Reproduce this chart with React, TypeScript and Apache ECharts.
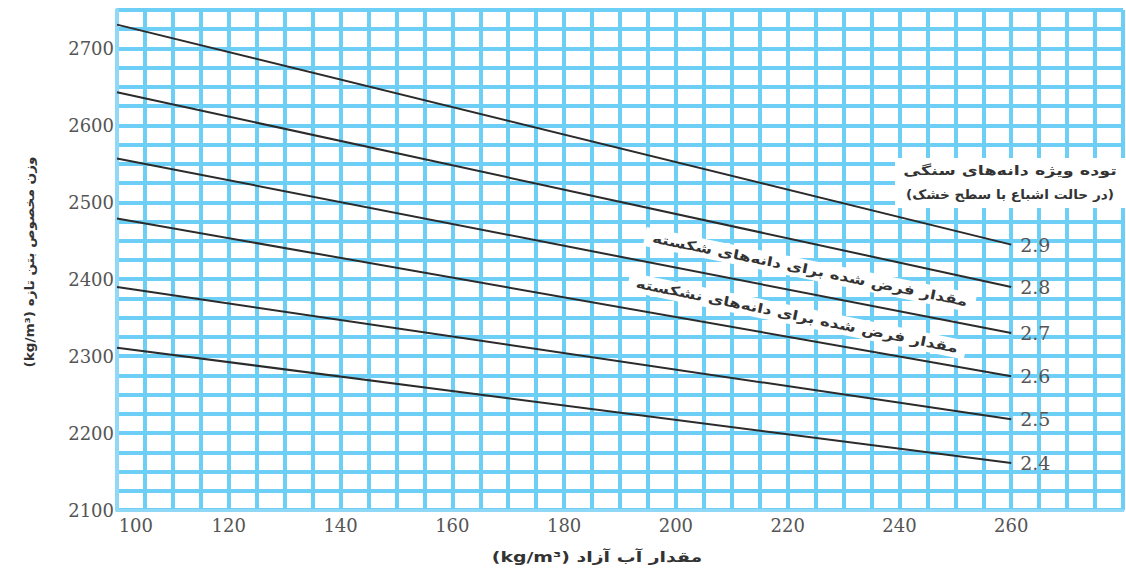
import React, { useEffect, useRef } from "react";
import * as echarts from "echarts";

// Free-water content (kg/m³) at the start and end of each line
const waterContent = [100, 260];

// Relative density of aggregate (SSD) – line labels
const densityNames = ["2.9", "2.8", "2.7", "2.6", "2.5", "2.4"];

// Wet density of fresh concrete (kg/m³) read at 100 and 260 kg/m³ water
const rd29 = [2731, 2445];
const rd28 = [2643, 2390];
const rd27 = [2557, 2330];
const rd26 = [2479, 2274];
const rd25 = [2390, 2218];
const rd24 = [2311, 2161];
const densitySeries = [rd29, rd28, rd27, rd26, rd25, rd24];

const xTickLabels = [100, 120, 140, 160, 180, 200, 220, 240, 260];
const yTickLabels = [2100, 2200, 2300, 2400, 2500, 2600, 2700];

const gridBlue = "#6dcff6";
const persianFont = '"DejaVu Sans", sans-serif';

export default function App() {
  const ref = useRef<HTMLDivElement>(null);

  useEffect(() => {
    if (!ref.current) return;
    const chart = echarts.init(ref.current, undefined, { renderer: "svg" });

    const series = densityNames.map((name, i) => ({
      name,
      type: "line",
      data: waterContent.map((x, j) => [x, densitySeries[i][j]]),
      showSymbol: false,
      symbol: "none",
      lineStyle: { color: "#2b2b2b", width: 2 },
      z: 3,
      endLabel: {
        show: true,
        formatter: "{a}",
        distance: 9,
        color: "#555",
        fontFamily: '"DejaVu Serif", serif',
        fontSize: 19,
      },
    }));

    const txt = (
      text: string,
      x: number,
      y: number,
      scaleX: number,
      extra: Record<string, unknown> = {},
      styleExtra: Record<string, unknown> = {}
    ) => ({
      type: "text",
      x,
      y,
      scaleX,
      z: 100,
      ...extra,
      style: {
        text,
        fill: "#333",
        font: `bold 13px ${persianFont}`,
        align: "center",
        verticalAlign: "middle",
        ...styleExtra,
      },
    });

    chart.setOption({
      animation: false,
      backgroundColor: "#fff",
      grid: { left: 117, right: 0, top: 10, bottom: 60, containLabel: false },
      xAxis: {
        type: "value",
        min: 100,
        max: 280,
        interval: 5,
        axisLine: { show: true, lineStyle: { color: "#8fd9f7", width: 3 } },
        axisTick: { show: false },
        splitLine: { show: true, lineStyle: { color: gridBlue, width: 4 } },
        axisLabel: {
          interval: 0,
          hideOverlap: false,
          margin: 6,
          color: "#555",
          fontFamily: '"DejaVu Serif", serif',
          fontSize: 18,
          formatter: (v: number) =>
            v === 100 ? "{first|100}" : xTickLabels.includes(v) ? String(v) : "",
          rich: {
            first: {
              width: 72,
              align: "right",
              color: "#555",
              fontFamily: '"DejaVu Serif", serif',
              fontSize: 18,
            },
          },
        },
      },
      yAxis: {
        type: "value",
        min: 2100,
        max: 2750,
        interval: 25,
        axisLine: { show: true, lineStyle: { color: "#8fd9f7", width: 4 } },
        axisTick: { show: false },
        splitLine: { show: true, lineStyle: { color: gridBlue, width: 4 } },
        axisLabel: {
          interval: 0,
          hideOverlap: false,
          margin: 3,
          color: "#555",
          fontFamily: '"DejaVu Serif", serif',
          fontSize: 18,
          formatter: (v: number) => (yTickLabels.includes(v) ? String(v) : ""),
        },
      },
      series,
      graphic: [
        {
          type: "rect",
          z: 90,
          shape: { x: 895, y: 158, width: 231, height: 50 },
          style: { fill: "#fff" },
        },
        txt("توده ویژه دانه‌های سنگی", 1010, 171, 1.35),
        txt("(در حالت اشباع با سطح خشک)", 1010, 195, 1.05),
        txt(
          "مقدار فرض شده برای دانه‌های شکسته",
          810,
          270,
          1.3,
          { rotation: (-11.5 * Math.PI) / 180 },
          { backgroundColor: "#fff", padding: [3, 6] }
        ),
        txt(
          "مقدار فرض شده برای دانه‌های نشکسته",
          797,
          316,
          1.3,
          { rotation: (-11.5 * Math.PI) / 180 },
          { backgroundColor: "#fff", padding: [3, 6] }
        ),
        txt("(kg/m³) وزن مخصوص بتن تازه", 30, 262, 1.05, {
          rotation: Math.PI / 2,
        }),
        txt("(kg/m³) مقدار آب آزاد", 597, 557, 1.35, {}, {
          font: `bold 14px ${persianFont}`,
        }),
      ],
    });

    return () => chart.dispose();
  }, []);

  return (
    <div
      ref={ref}
      style={{ position: "fixed", left: 0, top: 0, width: 1126, height: 570 }}
    />
  );
}
